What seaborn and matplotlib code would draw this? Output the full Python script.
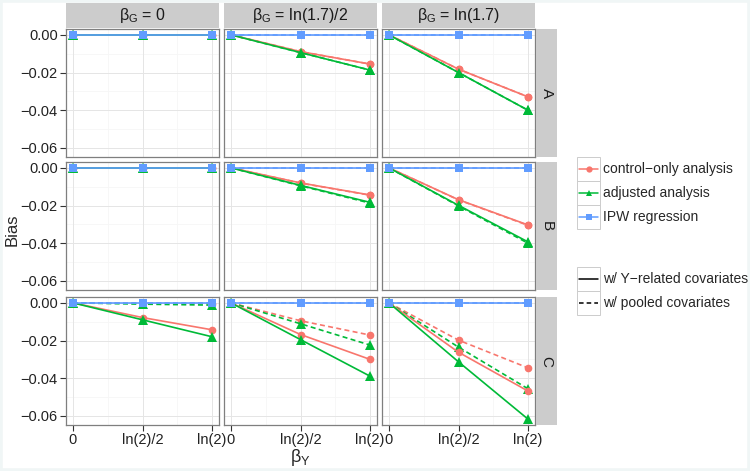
import numpy as np
import pandas as pd
import matplotlib
matplotlib.use("Agg")
import matplotlib.pyplot as plt
import seaborn as sns
from matplotlib.lines import Line2D
from matplotlib.patches import Rectangle

# ---------------- data ----------------
beta_y = [0.0, np.log(2) / 2, np.log(2)]
x_labels = ["0", "ln(2)/2", "ln(2)"]
col_labels = [r"$\beta_\mathrm{G}$ = 0", r"$\beta_\mathrm{G}$ = ln(1.7)/2", r"$\beta_\mathrm{G}$ = ln(1.7)"]
row_labels = ["A", "B", "C"]
methods = ["control\u2212only analysis", "adjusted analysis", "IPW regression"]
covs = ["w/ Y\u2212related covariates", "w/ pooled covariates"]

ctrl_Y = {
    ("A", 0): [0, 0, 0], ("A", 1): [0, -0.0089, -0.0155], ("A", 2): [0, -0.0182, -0.0329],
    ("B", 0): [0, 0, 0], ("B", 1): [0, -0.0080, -0.0144], ("B", 2): [0, -0.0169, -0.0303],
    ("C", 0): [0, -0.0078, -0.0143], ("C", 1): [0, -0.0168, -0.0300], ("C", 2): [0, -0.0262, -0.0468],
}
ctrl_P = {
    ("A", 0): [0, 0, 0], ("A", 1): [0, -0.0089, -0.0155], ("A", 2): [0, -0.0182, -0.0329],
    ("B", 0): [0, 0, 0], ("B", 1): [0, -0.0081, -0.0145], ("B", 2): [0, -0.0170, -0.0305],
    ("C", 0): [0, -0.0002, -0.0004], ("C", 1): [0, -0.0095, -0.0171], ("C", 2): [0, -0.0198, -0.0345],
}
adj_Y = {
    ("A", 0): [0, 0, 0], ("A", 1): [0, -0.0094, -0.0187], ("A", 2): [0, -0.0200, -0.0400],
    ("B", 0): [0, 0, 0], ("B", 1): [0, -0.0093, -0.0183], ("B", 2): [0, -0.0199, -0.0393],
    ("C", 0): [0, -0.0090, -0.0180], ("C", 1): [0, -0.0195, -0.0389], ("C", 2): [0, -0.0313, -0.0617],
}
adj_P = {
    ("A", 0): [0, 0, 0], ("A", 1): [0, -0.0094, -0.0187], ("A", 2): [0, -0.0200, -0.0400],
    ("B", 0): [0, 0, 0], ("B", 1): [0, -0.0095, -0.0187], ("B", 2): [0, -0.0202, -0.0400],
    ("C", 0): [0, -0.0007, -0.0012], ("C", 1): [0, -0.0111, -0.0224], ("C", 2): [0, -0.0235, -0.0456],
}
ipw = [0, 0, 0]

rows = []
for r in row_labels:
    for c in range(3):
        for m, tabs in zip(methods, [(ctrl_Y, ctrl_P), (adj_Y, adj_P), None]):
            for k, cv in enumerate(covs):
                vals = ipw if tabs is None else tabs[k][(r, c)]
                for xv, yv in zip(beta_y, vals):
                    rows.append({"rowlab": r, "colidx": c, "method": m, "covset": cv,
                                 "beta_y": xv, "bias": yv})
df = pd.DataFrame(rows)

# ---------------- style ----------------
sns.set_theme(style="white")
plt.rcParams["font.family"] = ["Liberation Sans", "DejaVu Sans"]
plt.rcParams["mathtext.fontset"] = "custom"
plt.rcParams["mathtext.rm"] = "Liberation Sans"
plt.rcParams["mathtext.it"] = "Liberation Sans"

colors = {methods[0]: "#F8766D", methods[1]: "#00BA38", methods[2]: "#619CFF"}
marks = {methods[0]: "o", methods[1]: "^", methods[2]: "s"}
msize = {methods[0]: 5.5, methods[1]: 6.5, methods[2]: 5.5}
dash = {covs[0]: "-", covs[1]: (0, (3, 2))}

W, H = 750, 471
fig = plt.figure(figsize=(7.5, 4.71), dpi=100)

# faint outer frame as in the reference
fig.patches.append(Rectangle((0, 0), 1, 1, transform=fig.transFigure, fill=False,
                             ec="#F0F6F6", lw=4))

col_x = [66, 224, 382]
row_y = [29, 162, 297]
pw, ph = 153, 128

for ri, r in enumerate(row_labels):
    for ci in range(3):
        ax = fig.add_axes([col_x[ci] / W, 1 - (row_y[ri] + ph) / H, pw / W, ph / H])
        sub = df[(df["rowlab"] == r) & (df["colidx"] == ci)]
        for yv in [-0.05, -0.03, -0.01]:
            ax.axhline(yv, color="#F6F6F6", lw=0.6, zorder=0)
        for xv in [beta_y[1] / 2, (beta_y[1] + beta_y[2]) / 2]:
            ax.axvline(xv, color="#F6F6F6", lw=0.6, zorder=0)
        for yv in [-0.06, -0.04, -0.02, 0.0]:
            ax.axhline(yv, color="#E5E5E5", lw=0.7, zorder=0)
        for xv in beta_y:
            ax.axvline(xv, color="#E5E5E5", lw=0.7, zorder=0)
        for cv in covs[::-1]:
            for m in methods:
                s = sub[(sub["method"] == m) & (sub["covset"] == cv)]
                sns.lineplot(data=s, x="beta_y", y="bias", ax=ax, color=colors[m],
                             linestyle=dash[cv], marker=marks[m], markersize=msize[m],
                             markeredgewidth=0, lw=1.2, legend=False, sort=False, zorder=3)
        ax.set_xlim(-0.0347, np.log(2) + 0.0347)
        ax.set_ylim(-0.0648, 0.0031)
        ax.set_xticks(beta_y)
        ax.set_yticks([-0.06, -0.04, -0.02, 0.0])
        ax.set_xlabel("")
        ax.set_ylabel("")
        if ci == 0:
            ax.set_yticklabels(["\u22120.06", "\u22120.04", "\u22120.02", "0.00"])
        else:
            ax.set_yticklabels([])
        if ri == 2:
            ax.set_xticklabels(x_labels)
        else:
            ax.set_xticklabels([])
        ax.tick_params(axis="both", which="both", length=4, width=0.8,
                       color="#333333", labelsize=10.5, labelcolor="#222222", pad=2,
                       bottom=(ri == 2), left=(ci == 0), direction="out")
        for sp in ax.spines.values():
            sp.set_color("#7F7F7F")
            sp.set_linewidth(0.9)
        ax.set_facecolor("white")

# column strips
for ci in range(3):
    sax = fig.add_axes([col_x[ci] / W, 1 - 28 / H, pw / W, 25 / H])
    sax.set_facecolor("#CCCCCC")
    sax.set_xticks([]); sax.set_yticks([])
    for sp in sax.spines.values():
        sp.set_visible(False)
    sax.text(0.5, 0.5, col_labels[ci], ha="center", va="center", fontsize=11.5,
             color="#1A1A1A", transform=sax.transAxes)

# row strips
for ri in range(3):
    sax = fig.add_axes([536 / W, 1 - (row_y[ri] + ph) / H, 21 / W, ph / H])
    sax.set_facecolor("#CCCCCC")
    sax.set_xticks([]); sax.set_yticks([])
    for sp in sax.spines.values():
        sp.set_visible(False)
    sax.text(0.5, 0.5, row_labels[ri], ha="center", va="center", fontsize=11, rotation=-90,
             color="#1A1A1A", transform=sax.transAxes)

fig.text(12 / W, 1 - 230 / H, "Bias", rotation=90, ha="center", va="center", fontsize=12)
fig.text(300 / W, 1 - 458 / H, r"$\beta_\mathrm{Y}$", ha="center", va="center", fontsize=13)

# legends drawn manually (ggplot-style key boxes)
def fy(y):
    return 1 - y / H

def fx(x):
    return x / W

key_h = 24.0
for top, items in [(157, [(m, colors[m], marks[m], "-") for m in methods]),
                   (267, [(c, "black", None, dash[c]) for c in covs])]:
    for i, (lab, colr, mk, ls) in enumerate(items):
        y0 = top + i * key_h
        fig.patches.append(Rectangle((fx(577), fy(y0 + key_h)), 23 / W, key_h / H,
                                     transform=fig.transFigure, fill=False, ec="#CCCCCC", lw=0.7))
        yc = fy(y0 + key_h / 2)
        fig.add_artist(Line2D([fx(579), fx(598)], [yc, yc], color=colr, lw=1.1, linestyle=ls,
                              transform=fig.transFigure))
        if mk is not None:
            fig.add_artist(Line2D([fx(588.5)], [yc], color=colr, marker=mk, markersize=4.5,
                                  markeredgewidth=0, transform=fig.transFigure))
        fig.text(fx(603), yc, lab, ha="left", va="center", fontsize=10)

fig.savefig("out.png", dpi=100, facecolor="white")
